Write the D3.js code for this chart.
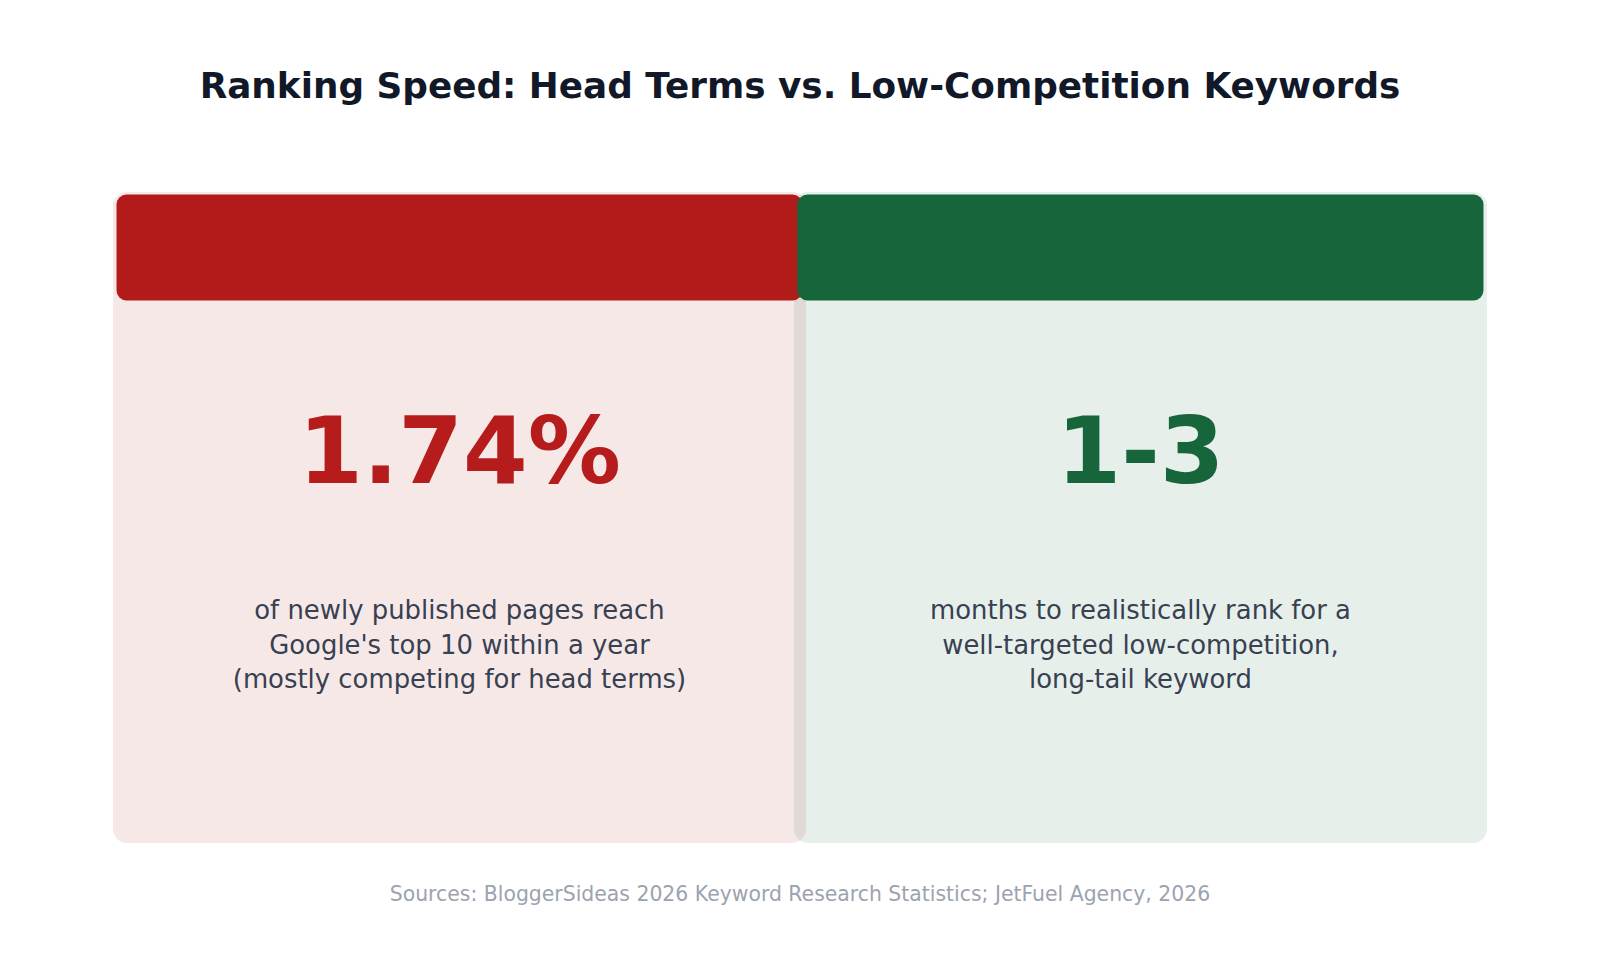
<!DOCTYPE html>
<html>
<head>
<meta charset="utf-8">
<script src="https://cdn.jsdelivr.net/npm/d3@7"></script>
<style>
  html, body { margin: 0; padding: 0; background: #ffffff; }
  svg { display: block; font-family: "DejaVu Sans", sans-serif; }
</style>
</head>
<body>
<div id="chart"></div>
<script>
// chart data
const titleText = 'Ranking Speed: Head Terms vs. Low-Competition Keywords';
const sourceText = 'Sources: BloggerSideas 2026 Keyword Research Statistics; JetFuel Agency, 2026';
const categories = ['Head terms', 'Low-competition keywords'];
const bigValues = ['1.74%', '1-3'];
const descriptions = [
    ['of newly published pages reach', "Google's top 10 within a year", '(mostly competing for head terms)'],
    ['months to realistically rank for a', 'well-targeted low-competition,', 'long-tail keyword']
];
const headerColors = ['#b31b1b', '#17653a'];
const numberColors = ['#b71c1c', '#17653a'];

const W = 1600, H = 978;
const svg = d3.select('#chart').append('svg')
    .attr('width', W)
    .attr('height', H);

// title
svg.append('text')
    .attr('x', W / 2)
    .attr('y', 98)
    .attr('text-anchor', 'middle')
    .attr('font-size', 35.8)
    .attr('font-weight', 'bold')
    .attr('fill', '#111827')
    .text(titleText);

// cards sit side by side and overlap a little
const overlap = 12;
const x = d3.scaleBand()
    .domain(categories)
    .range([113, 1475])
    .padding(0);
const cardW = x.bandwidth() + overlap;
const cardTop = 192, cardBottom = 843;

const cards = svg.selectAll('g.card')
    .data(categories)
    .enter()
    .append('g')
    .attr('class', 'card');

cards.append('rect')
    .attr('x', d => x(d))
    .attr('y', cardTop)
    .attr('width', cardW)
    .attr('height', cardBottom - cardTop)
    .attr('rx', 14)
    .attr('fill', (d, i) => headerColors[i])
    .attr('fill-opacity', 0.1);

cards.append('rect')
    .attr('x', d => x(d) + 3.5)
    .attr('y', 194.5)
    .attr('width', cardW - 7)
    .attr('height', 106)
    .attr('rx', 10)
    .attr('fill', (d, i) => headerColors[i]);

cards.append('text')
    .attr('x', d => x(d) + cardW / 2)
    .attr('y', 483)
    .attr('text-anchor', 'middle')
    .attr('font-size', 93)
    .attr('font-weight', 'bold')
    .attr('fill', (d, i) => numberColors[i])
    .text((d, i) => bigValues[i]);

cards.append('text')
    .attr('text-anchor', 'middle')
    .attr('font-size', 25.9)
    .attr('fill', '#374151')
    .each(function(d, i) {
        const t = d3.select(this);
        descriptions[i].forEach((line, j) => {
            t.append('tspan')
                .attr('x', x(d) + cardW / 2)
                .attr('y', 619 + j * 34.5)
                .text(line);
        });
    });

// source note
svg.append('text')
    .attr('x', W / 2)
    .attr('y', 901)
    .attr('text-anchor', 'middle')
    .attr('font-size', 20.4)
    .attr('fill', '#9ca3af')
    .text(sourceText);
</script>
</body>
</html>
